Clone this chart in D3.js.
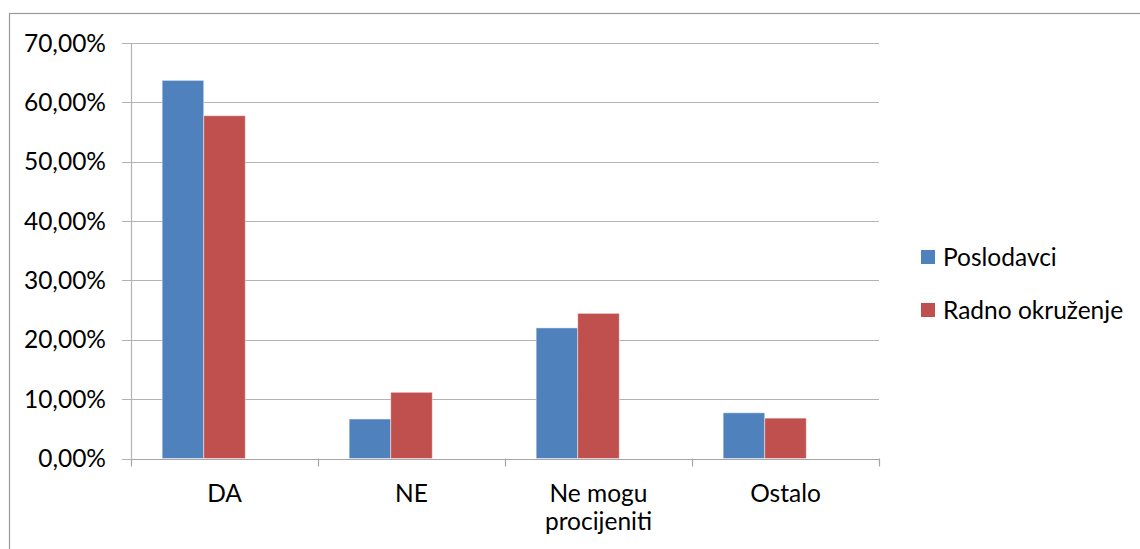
<!DOCTYPE html>
<html><head><meta charset="utf-8">
<script src="https://cdn.jsdelivr.net/npm/d3@7"></script>
<style>
body{margin:0;background:#fff;}
svg{display:block;font-family:Lato,"Open Sans",sans-serif;}
</style></head><body>
<svg id="c" width="1140" height="549"></svg>
<script>
const categories = [["DA"], ["NE"], ["Ne mogu", "procijeniti"], ["Ostalo"]];
const seriesNames = ["Poslodavci", "Radno okruženje"];
const poslodavci = [63.7, 6.65, 22.0, 7.7];
const radnoOkruzenje = [57.75, 11.15, 24.45, 6.8];
const yTicks = [0, 10, 20, 30, 40, 50, 60, 70];
const colors = ["#4F81BD", "#C0504D"];
const FS = 24.5;

const svg = d3.select("#c");
// outer chart border
svg.append("rect").attr("x", 9.5).attr("y", 13.5).attr("width", 1200).attr("height", 600)
  .attr("fill", "none").attr("stroke", "#9a9a9a").attr("stroke-width", 1.2);

const L = 131, R = 879, T = 43, B = 458.5;
const y = d3.scaleLinear().domain([0, 70]).range([B, T]);
const catKeys = categories.map(c => c.join(" "));
const x0 = d3.scaleBand().domain(catKeys).range([L, R]).padding(0);
// Excel layout: bar slots occupy the left part of the group
const slot = x0.bandwidth() / 4.5;
const x1 = d3.scaleBand().domain(seriesNames).range([slot * 0.75, slot * 0.75 + 2 * slot]);

// gridlines
svg.append("g").selectAll("line").data(yTicks).join("line")
  .attr("x1", L - 9).attr("x2", R).attr("y1", d => Math.round(y(d)) + 0.5).attr("y2", d => Math.round(y(d)) + 0.5)
  .attr("stroke", "#b3b3b3").attr("stroke-width", 1.2);

// y axis line
svg.append("line").attr("x1", L + 0.5).attr("x2", L + 0.5).attr("y1", T).attr("y2", B)
  .attr("stroke", "#b3b3b3").attr("stroke-width", 1.2);

// y labels
svg.append("g").selectAll("text").data(yTicks).join("text")
  .attr("x", 106).attr("y", d => y(d)).attr("dy", "0.35em").attr("text-anchor", "end")
  .attr("font-size", FS).attr("fill", "#000")
  .text(d => d3.format(".2f")(d).replace(".", ",") + "%");

// bars
const data = categories.map((c, i) => ({key: catKeys[i], vals: [poslodavci[i], radnoOkruzenje[i]]}));
const g = svg.append("g").selectAll("g").data(data).join("g")
  .attr("transform", d => `translate(${x0(d.key)},0)`);
g.selectAll("rect").data(d => d.vals.map((v, j) => ({s: seriesNames[j], v, j}))).join("rect")
  .attr("x", d => x1(d.s)).attr("width", x1.bandwidth())
  .attr("y", d => y(d.v)).attr("height", d => B - y(d.v))
  .attr("fill", d => colors[d.j]).attr("stroke", "rgba(255,255,255,0.45)").attr("stroke-width", 1);

// x axis baseline and ticks
svg.append("line").attr("x1", L).attr("x2", R).attr("y1", Math.round(B) + 0.5).attr("y2", Math.round(B) + 0.5)
  .attr("stroke", "#a6a6a6").attr("stroke-width", 1.2);
const tickX = catKeys.map(k => x0(k)).concat([R]);
svg.append("g").selectAll("line").data(tickX).join("line")
  .attr("x1", d => Math.round(d) + 0.5).attr("x2", d => Math.round(d) + 0.5)
  .attr("y1", B).attr("y2", B + 8).attr("stroke", "#a6a6a6").attr("stroke-width", 1.2);

// x labels
const xl = svg.append("g").selectAll("text").data(categories).join("text")
  .attr("x", (d, i) => x0(catKeys[i]) + x0.bandwidth() / 2).attr("y", 493)
  .attr("text-anchor", "middle").attr("font-size", FS).attr("fill", "#000");
xl.selectAll("tspan").data(d => d).join("tspan")
  .attr("x", function(){ return this.parentNode.getAttribute("x"); })
  .attr("dy", (d, i) => i === 0 ? "0.35em" : "1.18em").text(d => d);

// legend
const lg = svg.append("g").selectAll("g").data(seriesNames).join("g")
  .attr("transform", (d, i) => `translate(921,${250 + i * 53})`);
lg.append("rect").attr("width", 14).attr("height", 14).attr("fill", (d, i) => colors[i]);
lg.append("text").attr("x", 22).attr("y", 7).attr("dy", "0.35em").attr("font-size", FS).attr("fill", "#000").text(d => d);
</script>
</body></html>
